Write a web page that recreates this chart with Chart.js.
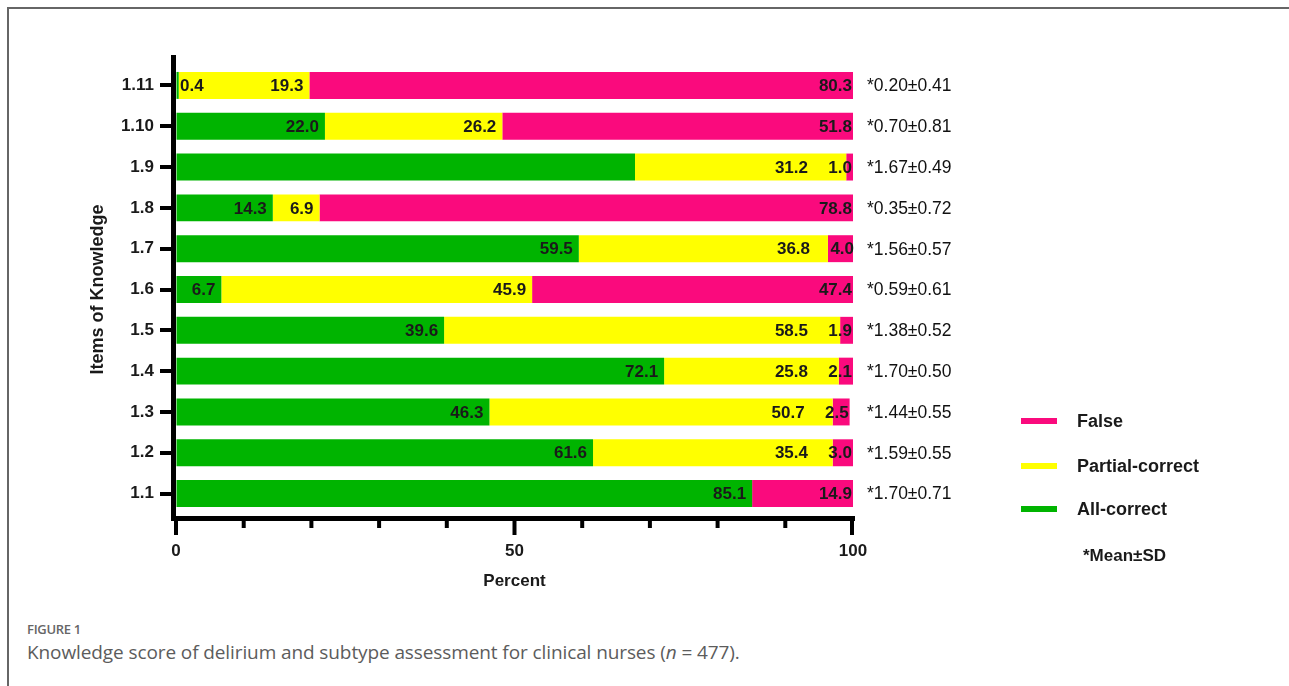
<!DOCTYPE html>
<html>
<head>
<meta charset="utf-8">
<script src="https://cdn.jsdelivr.net/npm/chart.js@4"></script>
<style>
body{margin:0;background:#fff;width:1289px;height:686px;overflow:hidden;position:relative}
#frame{position:absolute;left:7px;top:7px;width:1310px;height:720px;border:2px solid #666;box-sizing:border-box}
#wrap{position:absolute;left:0;top:0;width:1289px;height:605px}
#cap{position:absolute;left:27px;top:620px;font-family:"Open Sans",sans-serif;color:#5c5c5c}
#cap .fig{font-size:13px;font-weight:600;color:#666;letter-spacing:-0.3px}
#cap .txt{font-size:19px;margin-top:1px;letter-spacing:-0.1px}
</style>
</head>
<body>
<div id="frame"></div>
<div id="wrap"><canvas id="knowChart"></canvas></div>
<div id="cap">
  <div class="fig">FIGURE 1</div>
  <div class="txt">Knowledge score of delirium and subtype assessment for clinical nurses (<i>n</i> = 477).</div>
</div>
<script>
// Values (percent)
var items = ['1.11','1.10','1.9','1.8','1.7','1.6','1.5','1.4','1.3','1.2','1.1'];
var allCorrect     = [0.4, 22.0, 67.8, 14.3, 59.5, 6.7, 39.6, 72.1, 46.3, 61.6, 85.1];
var partialCorrect = [19.3, 26.2, 31.2, 6.9, 36.8, 45.9, 58.5, 25.8, 50.7, 35.4, 0];
var falseAnswer    = [80.3, 51.8, 1.0, 78.8, 4.0, 47.4, 1.9, 2.1, 2.5, 3.0, 14.9];
var meanSD = ['*0.20±0.41','*0.70±0.81','*1.67±0.49','*0.35±0.72','*1.56±0.57','*0.59±0.61',
              '*1.38±0.52','*1.70±0.50','*1.44±0.55','*1.59±0.55','*1.70±0.71'];
var xTicks = [0, 50, 100];
// segment labels that the original leaves out
var hideLabel = ['All-correct 1.9'];

Chart.defaults.font.family = '"Liberation Sans", Arial, sans-serif';
Chart.defaults.color = '#1a1a1a';

// value labels on the bar segments
var segLabels = {
  id: 'segLabels',
  afterDatasetsDraw: function(chart){
    var ctx = chart.ctx, area = chart.chartArea;
    ctx.save();
    ctx.font = 'bold 17px "Liberation Sans"';
    ctx.fillStyle = '#1a1a1a';
    ctx.textBaseline = 'middle';
    chart.data.datasets.forEach(function(ds, di){
      var meta = chart.getDatasetMeta(di);
      meta.data.forEach(function(bar, i){
        var v = ds.data[i];
        if(!v) return;
        if(hideLabel.indexOf(ds.label + ' ' + items[i]) >= 0) return;
        var txt = v.toFixed(1);
        var w = ctx.measureText(txt).width;
        var x = bar.x - (di == 2 ? 1 : 6);
        if(di == 1 && falseAnswer[i] < 5){
          var endX = chart.getDatasetMeta(2).data[i].x;
          x = Math.min(x, endX - 45);
        }
        if(x - w < area.left + 3){
          ctx.textAlign = 'left';
          ctx.fillText(txt, area.left + 4, bar.y + 1);
        } else {
          ctx.textAlign = 'right';
          ctx.fillText(txt, x, bar.y + 1);
        }
      });
    });
    // mean ± SD on the right
    ctx.font = '17.5px "Liberation Sans"';
    ctx.fillStyle = '#111';
    ctx.textAlign = 'left';
    var yScale = chart.scales.y;
    meanSD.forEach(function(t, i){
      ctx.fillText(t, area.right + 14, yScale.getPixelForValue(i) + 1);
    });
    ctx.restore();
  }
};

// GraphPad style axes and the legend block
var prismAxes = {
  id: 'prismAxes',
  afterDraw: function(chart){
    var ctx = chart.ctx, area = chart.chartArea, xs = chart.scales.x;
    ctx.save();
    ctx.strokeStyle = '#000';
    ctx.lineWidth = 5;
    ctx.beginPath();
    ctx.moveTo(area.left - 2.5, area.top - 10);
    ctx.lineTo(area.left - 2.5, area.bottom + 7);
    ctx.moveTo(area.left - 5, area.bottom + 4.5);
    ctx.lineTo(area.right + 2, area.bottom + 4.5);
    ctx.stroke();
    ctx.lineWidth = 4;
    for(var v = 0; v <= 100; v += 10){
      var px = xs.getPixelForValue(v);
      if(v == 100) px -= 1;
      var len = xTicks.indexOf(v) >= 0 ? 21 : 14;
      ctx.beginPath();
      ctx.moveTo(px, area.bottom + 6);
      ctx.lineTo(px, area.bottom + len);
      ctx.stroke();
    }
    // legend
    var lx = area.right + 168, ys = [421, 466, 509];
    ctx.font = 'bold 18px "Liberation Sans"';
    ctx.textBaseline = 'middle';
    ctx.textAlign = 'left';
    var order = [2, 1, 0];
    order.forEach(function(di, k){
      var ds = chart.data.datasets[di];
      ctx.strokeStyle = ds.backgroundColor;
      ctx.lineWidth = 6;
      ctx.beginPath();
      ctx.moveTo(lx, ys[k]);
      ctx.lineTo(lx + 36, ys[k]);
      ctx.stroke();
      ctx.fillStyle = '#1a1a1a';
      ctx.fillText(ds.label, lx + 56, ys[k] + 1);
    });
    ctx.font = 'bold 17px "Liberation Sans"';
    ctx.fillText('*Mean±SD', lx + 62, 556);
    ctx.restore();
  }
};

var ctx = document.getElementById('knowChart').getContext('2d');
var knowChart = new Chart(ctx, {
  type: 'bar',
  data: {
    labels: items,
    datasets: [
      { label: 'All-correct', data: allCorrect, backgroundColor: '#00b400' },
      { label: 'Partial-correct', data: partialCorrect, backgroundColor: '#ffff00' },
      { label: 'False', data: falseAnswer, backgroundColor: '#fa0a7d' }
    ]
  },
  options: {
    indexAxis: 'y',
    responsive: true,
    maintainAspectRatio: false,
    animation: false,
    categoryPercentage: 1,
    barPercentage: 0.66,
    layout: { padding: { left: 0, top: 65, right: 436, bottom: 0 } },
    plugins: { legend: { display: false }, tooltip: { enabled: false } },
    scales: {
      x: {
        stacked: true, min: 0, max: 100,
        afterFit: function(s){ s.height = 91; },
        border: { display: false },
        grid: { drawOnChartArea: false, drawTicks: true, tickLength: 20, color: 'rgba(0,0,0,0)' },
        ticks: {
          stepSize: 10, autoSkip: false, maxRotation: 0, padding: 7,
          font: { size: 17, weight: 'bold' }, color: '#1a1a1a',
          callback: function(v){ return xTicks.indexOf(v) >= 0 ? v : ''; }
        },
        title: { display: true, text: 'Percent', font: { size: 17, weight: 'bold' }, color: '#1a1a1a', padding: { top: 0, bottom: 13 } }
      },
      y: {
        stacked: true,
        afterFit: function(s){ s.width = 176; },
        border: { display: false },
        grid: { drawOnChartArea: false, offset: false, tickLength: 16, lineWidth: 4, color: '#000' },
        ticks: { padding: 6, font: { size: 17, weight: 'bold' }, color: '#1a1a1a' },
        title: { display: true, text: 'Items of Knowledge', font: { size: 18, weight: 'bold' }, color: '#1a1a1a', padding: { top: 87, bottom: 0 } }
      }
    }
  },
  plugins: [segLabels, prismAxes]
});
</script>
</body>
</html>
